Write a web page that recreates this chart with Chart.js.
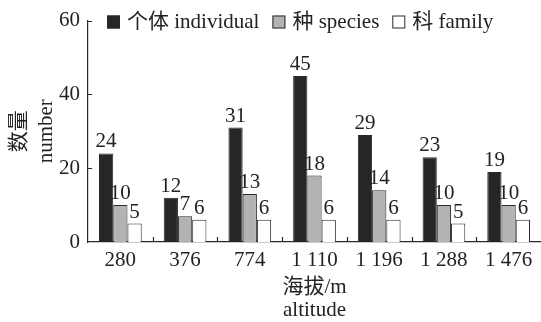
<!DOCTYPE html>
<html>
<head>
<meta charset="utf-8">
<script src="https://cdn.jsdelivr.net/npm/chart.js@4"></script>
<style>
html,body{margin:0;padding:0;background:#fff;}
#wrap{width:541px;height:322px;position:relative;}
</style>
</head>
<body>
<div id="wrap"><canvas id="c" width="541" height="322"></canvas></div>
<script>
const categories = ['280', '376', '774', '1 110', '1 196', '1 288', '1 476'];
const individualValues = [24, 12, 31, 45, 29, 23, 19];
const speciesValues = [10, 7, 13, 18, 14, 10, 10];
const familyValues = [5, 6, 6, 6, 6, 5, 6];
const seriesLabels = ['个体 individual', '种 species', '科 family'];
const yTicks = [0, 20, 40, 60];

const FONT = '"Liberation Serif", "Noto Sans CJK SC", serif';
const TEXT = '#222';
const EDGE = '#2a2a2a';

const valueLabels = {
  id: 'valueLabels',
  afterDatasetsDraw(chart) {
    const ctx = chart.ctx;
    ctx.save();
    ctx.font = '21px ' + FONT;
    ctx.fillStyle = TEXT;
    ctx.textAlign = 'center';
    ctx.textBaseline = 'alphabetic';
    chart.data.datasets.forEach((ds, di) => {
      const meta = chart.getDatasetMeta(di);
      meta.data.forEach((bar, i) => {
        ctx.fillText(String(ds.data[i]), bar.x, bar.y - 6);
      });
    });
    ctx.restore();
  }
};

const axisTicks = {
  id: 'axisTicks',
  afterDraw(chart) {
    const ctx = chart.ctx;
    const xs = chart.scales.x, ys = chart.scales.y;
    const area = chart.chartArea;
    ctx.save();
    ctx.strokeStyle = EDGE;
    ctx.lineWidth = 1.2;
    ctx.beginPath();
    yTicks.forEach(v => {
      if (v === 0) return;
      const y = Math.round(ys.getPixelForValue(v)) + 0.5;
      ctx.moveTo(area.left, y);
      ctx.lineTo(area.left + 4, y);
    });
    for (let i = 0; i < categories.length - 1; i++) {
      const x = Math.round((xs.getPixelForValue(i) + xs.getPixelForValue(i + 1)) / 2) + 0.5;
      ctx.moveTo(x, area.bottom);
      ctx.lineTo(x, area.bottom - 5);
    }
    ctx.stroke();

    // legend
    ctx.font = '21px ' + FONT;
    ctx.textBaseline = 'middle';
    ctx.textAlign = 'left';
    let x = 107;
    const cy = 22;
    const box = 13;
    chart.data.datasets.forEach((ds, di) => {
      ctx.fillStyle = ds.backgroundColor;
      ctx.fillRect(x, cy - box / 2, box, box);
      ctx.strokeStyle = EDGE;
      ctx.lineWidth = 1;
      ctx.strokeRect(x + 0.5, cy - box / 2 + 0.5, box - 1, box - 1);
      x += box + 7;
      ctx.fillStyle = TEXT;
      ctx.fillText(ds.label, x, cy);
      x += ctx.measureText(ds.label).width + 13;
    });
    ctx.restore();
  }
};

new Chart(document.getElementById('c'), {
  type: 'bar',
  data: {
    labels: categories,
    datasets: [
      { label: seriesLabels[0], data: individualValues, backgroundColor: '#262626', borderColor: EDGE, borderWidth: 1 },
      { label: seriesLabels[1], data: speciesValues, backgroundColor: '#b3b3b3', borderColor: EDGE, borderWidth: 1 },
      { label: seriesLabels[2], data: familyValues, backgroundColor: '#ffffff', borderColor: EDGE, borderWidth: 1 }
    ]
  },
  options: {
    responsive: false,
    animation: false,
    devicePixelRatio: 1,
    layout: { padding: { left: 0, right: 0, top: 20, bottom: 0 } },
    datasets: { bar: { categoryPercentage: 0.66, barPercentage: 1.0 } },
    plugins: { legend: { display: false }, tooltip: { enabled: false } },
    scales: {
      x: {
        grid: { display: false, drawTicks: false },
        border: { display: true, color: EDGE, width: 1.2 },
        ticks: { color: TEXT, font: { family: FONT, size: 21 }, padding: 6, maxRotation: 0, autoSkip: false },
        title: { display: true, text: ['海拔/m', 'altitude'], color: TEXT, font: { family: FONT, size: 21, lineHeight: 1.1 }, padding: { top: -2, bottom: 0 } },
        afterFit: s => { s.height = 80; }
      },
      y: {
        min: 0, max: 60,
        grid: { display: false, drawTicks: false },
        border: { display: true, color: EDGE, width: 1.2 },
        ticks: { stepSize: 20, color: TEXT, font: { family: FONT, size: 21 }, padding: 8 },
        title: { display: true, text: ['数量', 'number'], color: TEXT, font: { family: FONT, size: 21, lineHeight: 1.3 }, padding: { top: 6, bottom: 0 } },
        afterFit: s => { s.width = 88; }
      }
    }
  },
  plugins: [valueLabels, axisTicks]
});
</script>
</body>
</html>
